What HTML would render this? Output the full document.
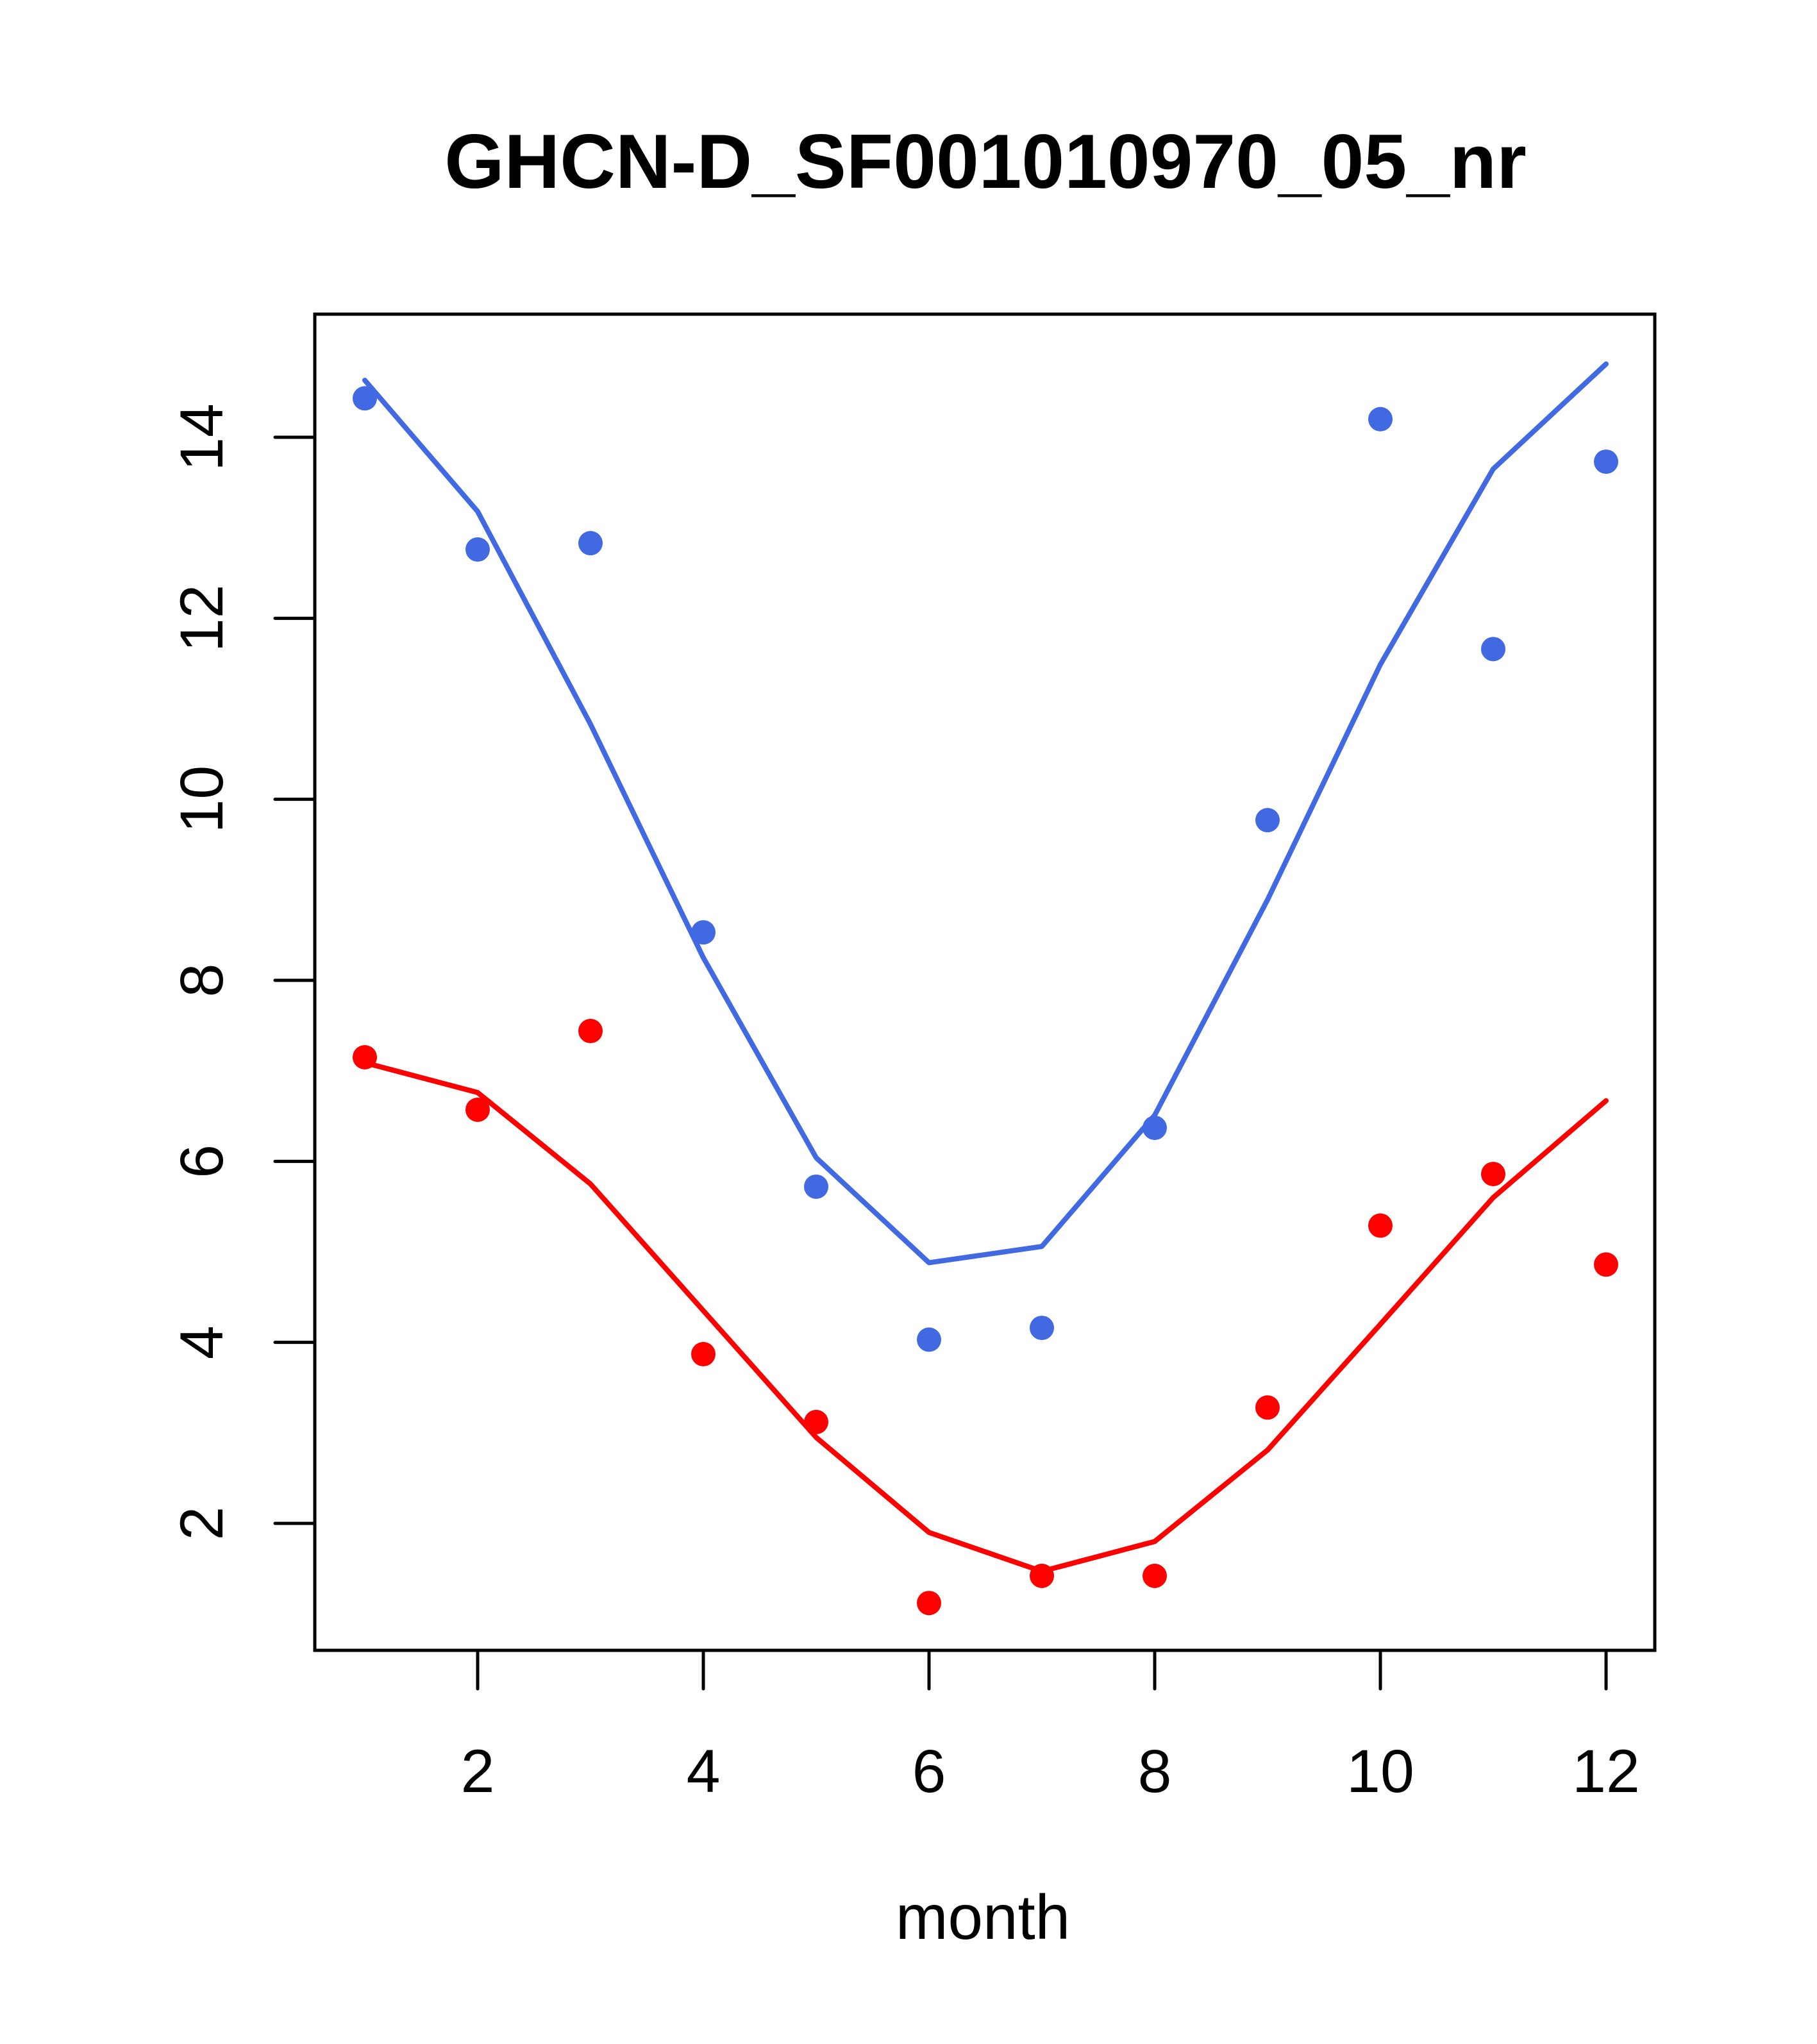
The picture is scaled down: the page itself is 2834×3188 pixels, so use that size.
<!DOCTYPE html>
<html><head><meta charset="utf-8"><style>html,body{margin:0;padding:0;background:#fff}svg{display:block}text{font-family:"Liberation Sans",sans-serif}</style></head>
<body>
<svg id="chart" width="2834" height="3188" viewBox="0 0 2834 3188" xmlns="http://www.w3.org/2000/svg">
<text x="1537" y="293" text-anchor="middle" font-size="120" font-weight="bold">GHCN-D_SF001010970_05_nr</text>
<rect x="491" y="490" width="2090" height="2084" fill="none" stroke="#000" stroke-width="5"/>
<g id="xaxis"></g>
<g id="yaxis"></g>
<text x="1533" y="3024" text-anchor="middle" font-size="98">month</text>
<g id="series"></g>
</svg>
<script>
const months = [1,2,3,4,5,6,7,8,9,10,11,12];
const bluePoints = [14.43,12.76,12.83,8.53,5.72,4.03,4.16,6.37,9.77,14.2,11.66,13.73];
const blueLine = [14.63,13.18,10.83,8.25,6.04,4.88,5.06,6.51,8.89,11.49,13.65,14.81];
const redPoints = [7.15,6.57,7.44,3.87,3.12,1.12,1.42,1.42,3.28,5.29,5.86,4.86];
const redLine = [7.09,6.76,5.75,4.35,2.95,1.90,1.47,1.80,2.81,4.2,5.6,6.67];
const xTicks = [2,4,6,8,10,12];
const yTicks = [2,4,6,8,10,12,14];

const NS = "http://www.w3.org/2000/svg";
function xs(v){ return 569 + (v-1)*(2505-569)/11; }
function ys(v){ return 2376 - (v-2)*(2376-682)/12; }
function mk(tag, attrs, parent){ const e=document.createElementNS(NS,tag); for(const k in attrs) e.setAttribute(k,attrs[k]); parent.appendChild(e); return e; }

const xa=document.getElementById('xaxis'), ya=document.getElementById('yaxis'), sg=document.getElementById('series');
xTicks.forEach(t=>{
  const l=mk('line',{x1:xs(t),x2:xs(t),y1:2574,y2:2634,stroke:'#000','stroke-width':5,'stroke-linecap':'round'},xa);
  
  
  const tx=mk('text',{x:xs(t),y:2795,'text-anchor':'middle','font-size':95},xa);
  tx.textContent=t;
  
  
});
yTicks.forEach(t=>{
  const l=mk('line',{x1:429,x2:491,y1:ys(t),y2:ys(t),stroke:'#000','stroke-width':5,'stroke-linecap':'round'},ya);
  
  
  const tx=mk('text',{x:0,y:0,'text-anchor':'middle','font-size':95,transform:`translate(347,${ys(t)}) rotate(-90)`},ya);
  tx.textContent=t;
  
  
});
function drawLine(vals,color,name){
  const p=mk('polyline',{points:vals.map((v,i)=>xs(months[i])+','+ys(v)).join(' '),fill:'none',stroke:color,'stroke-width':8,'stroke-linejoin':'round','stroke-linecap':'round'},sg);
  
  
}
function drawPts(vals,color,name){
  vals.forEach((v,i)=>{
    const c=mk('circle',{cx:xs(months[i]),cy:ys(v),r:19,fill:color},sg);
    
    
  });
}
drawLine(blueLine,'#4169E1','blue-fit-line');
drawLine(redLine,'#FF0000','red-fit-line');
drawPts(bluePoints,'#4169E1','blue-point');
drawPts(redPoints,'#FF0000','red-point');
</script>
</body></html>
